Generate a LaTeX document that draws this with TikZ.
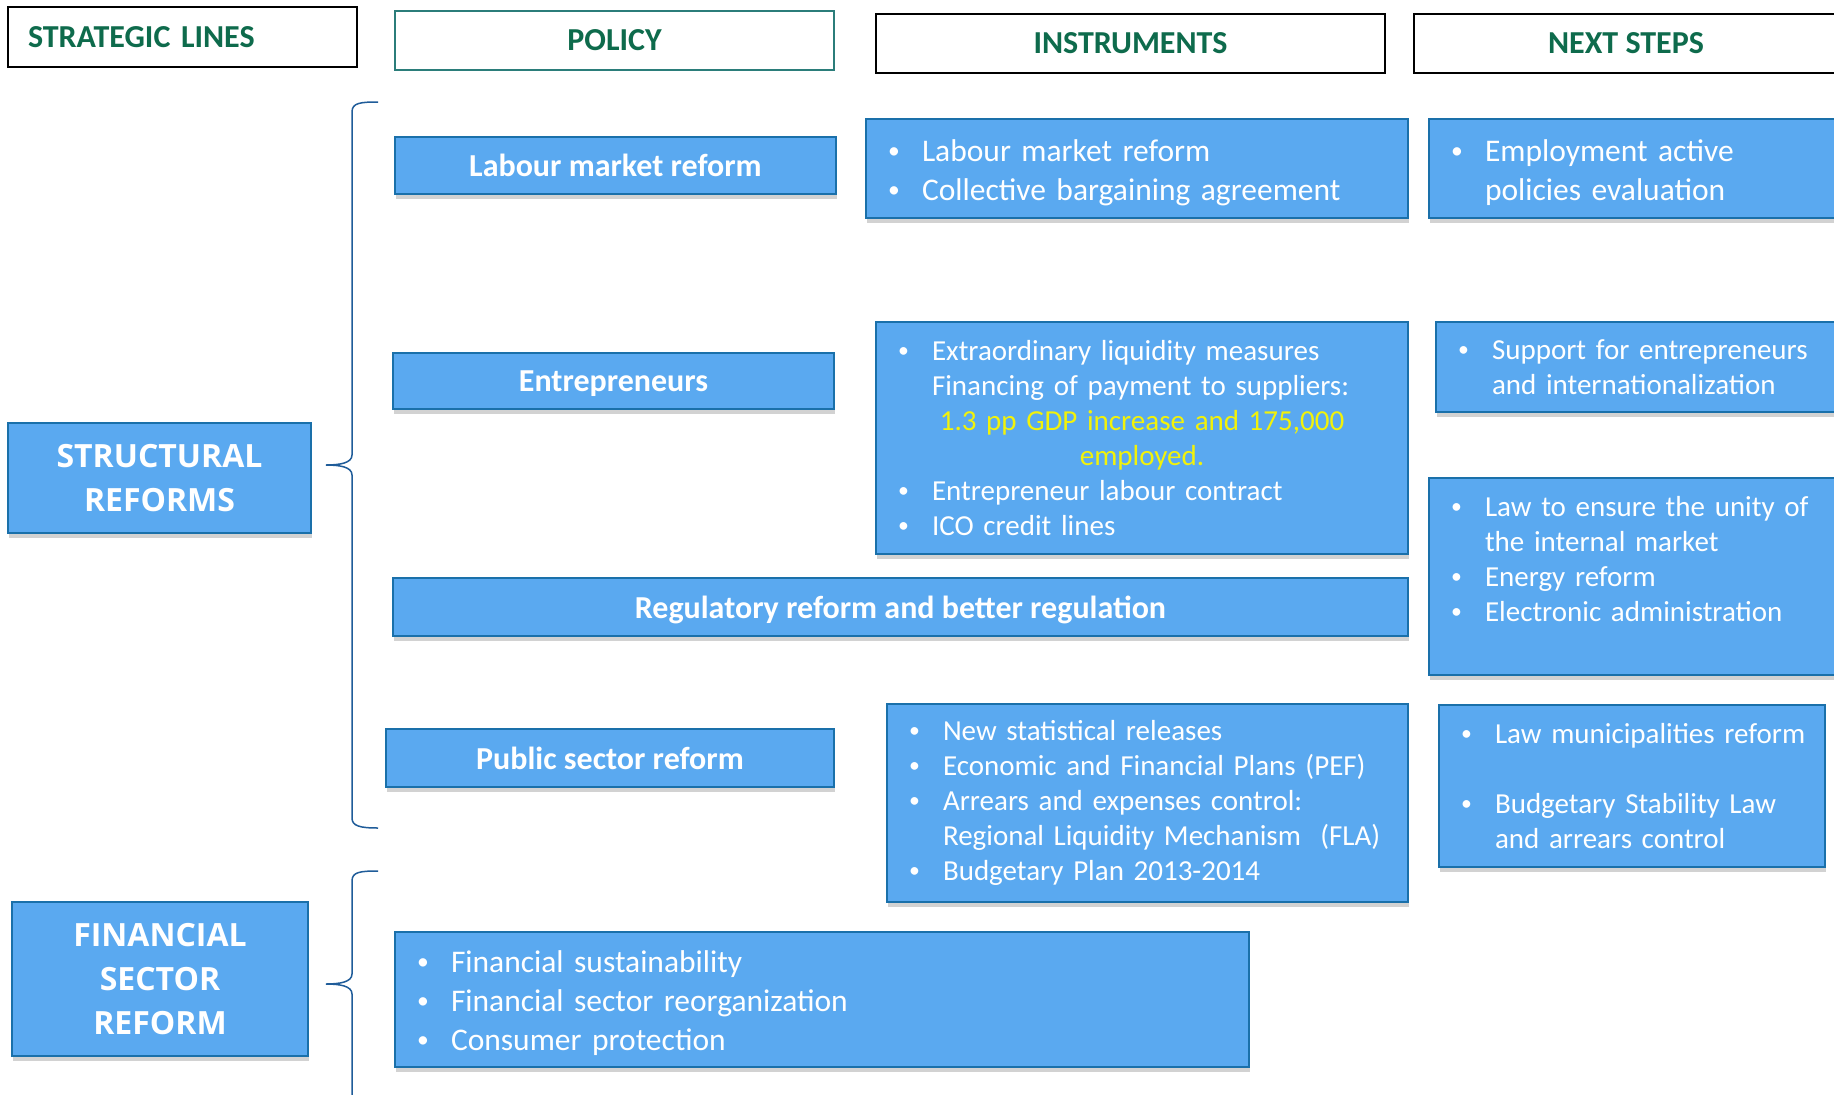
\documentclass[tikz,border=0pt]{standalone}
\usepackage{fontspec}
\setmainfont{Carlito}
\newfontfamily\openfont{Open Sans}
\usepackage{graphicx}
\usepackage{tikz}
\usetikzlibrary{shadows}
\definecolor{boxBlue}{HTML}{5AA9F0}
\definecolor{boxEdge}{HTML}{1A70AA}
\definecolor{headGreen}{HTML}{0E6B4C}
\definecolor{polTeal}{HTML}{2B7D7A}
\definecolor{braceBlue}{HTML}{1F5C99}
\definecolor{hiYellow}{HTML}{F2F20A}
\tikzstyle{head}=[draw=black, line width=1.5pt, fill=white, text=headGreen, inner sep=0pt, font=\fontsize{32}{37}\selectfont\bfseries]
\tikzstyle{blueBox}=[draw=boxEdge, line width=1.5pt, fill=boxBlue, text=white, drop shadow={opacity=0.35, shadow xshift=1pt, shadow yshift=-5pt}]
\tikzstyle{polBox}=[blueBox, inner sep=0pt, text depth=0pt, font=\fontsize{32}{37}\selectfont\bfseries]
\tikzstyle{listL}=[blueBox, align=left, inner xsep=22pt, inner ysep=0pt, font=\fontsize{31.5}{39}\selectfont, execute at begin node={\rule{0pt}{30pt}}]
\tikzstyle{listS}=[blueBox, align=left, inner xsep=22pt, inner ysep=0pt, font=\fontsize{29}{35}\selectfont]
\tikzstyle{lineBox}=[blueBox, align=center, inner sep=0pt, font=\fontsize{32}{44}\selectfont\openfont\bfseries]
\tikzstyle{brace}=[draw=braceBlue, line width=1.5pt]
\newcommand\bitem{\makebox[34pt][l]{\raisebox{0.1em}{\scalebox{0.75}{\textbullet}}}}
\newcommand\bindent{\hspace*{34pt}}
\hyphenpenalty=10000
\exhyphenpenalty=10000

\begin{document}
\begin{tikzpicture}[x=1pt, y=-1pt]
      \useasboundingbox (0,0) rectangle (1834,1095);
      \fill[white] (0,0) rectangle (1834,1095);
      % column heads
      \node(hStrat) [head, minimum height=60pt, text width=309pt, inner xsep=20pt, align=left] at (182.5,37){STRATEGIC LINES};
      \node(hPol) [head, draw=polTeal, minimum width=439pt, minimum height=59pt] at (614.5,40.5){POLICY};
      \node(hInst) [head, minimum width=509pt, minimum height=59pt] at (1130.5,43.5){INSTRUMENTS};
      \node(hNext) [head, minimum width=424pt, minimum height=59pt] at (1626,43.5){NEXT STEPS};
      % strategic lines
      \node(sStruct) [lineBox, minimum width=303pt, minimum height=110pt] at (159.5,478){STRUCTURAL\\REFORMS};
      \node(sFin) [lineBox, minimum width=296pt, minimum height=154pt] at (160,979){FINANCIAL\\SECTOR\\REFORM};
      % policy
      \node(pLab) [polBox, minimum width=441pt, minimum height=57pt] at (615.5,165.5){Labour market reform};
      \node(pEnt) [polBox, minimum width=441pt, minimum height=56pt] at (613.5,381){Entrepreneurs};
      \node(pReg) [polBox, minimum width=1015pt, minimum height=58pt] at (900.5,607){Regulatory reform and better regulation};
      \node(pPub) [polBox, minimum width=448pt, minimum height=58pt] at (610,758){Public sector reform};
      % instruments
      \node(iLab) [listL, text width=498pt, minimum height=99pt] at (1137,168.5){\bitem Labour market reform\\ \bitem Collective bargaining agreement};
      \node(iEnt) [listS, text width=488pt, minimum height=232pt] at (1142,438){\bitem Extraordinary liquidity measures\\ \bindent Financing of payment to suppliers:\\ \makebox[\linewidth][c]{\color{hiYellow}1.3 pp GDP increase and 175,000}\\ \makebox[\linewidth][c]{\color{hiYellow}employed.}\\ \bitem Entrepreneur labour contract\\ \bitem ICO credit lines};
      \node(iPub) [listS, text width=477pt, minimum height=198pt] at (1147.5,803){\bitem New statistical releases\\ \bitem Economic and Financial Plans (PEF)\\ \bitem Arrears and expenses control:\\ \bindent Regional Liquidity Mechanism~~(FLA)\\ \bitem Budgetary Plan 2013-2014};
      % next steps
      \node(nLab) [listL, text width=377pt, minimum height=99pt] at (1639.5,168.5){\bitem Employment active\\ \bindent policies evaluation};
      \node(nEnt) [listS, text width=370pt, minimum height=90pt] at (1643,367){\bitem Support for entrepreneurs\\ \bindent and internationalization};
      \node(nReg) [listS, text width=377pt, minimum height=197pt] at (1639.5,576.5){\bitem Law to ensure the unity of\\ \bindent the internal market\\ \bitem Energy reform\\ \bitem Electronic administration\\ ~};
      \node(nPub) [listS, text width=342pt, minimum height=162pt] at (1632,786){\bitem \mbox{Law municipalities reform}\\ ~\\ \bitem Budgetary Stability Law\\ \bindent and arrears control};
      % financial sector
      \node(fFin) [listL, text width=810pt, minimum height=135pt] at (822,999.5){\bitem Financial sustainability\\ \bitem Financial sector reorganization\\ \bitem Consumer protection};
      % braces
      \draw[brace] (378,102) .. controls (360,102) and (352,103) .. (352,112) -- (352,455)
        .. controls (352,463) and (340,465) .. (326,465) .. controls (340,465) and (352,467) .. (352,475)
        -- (352,818) .. controls (352,826) and (360,828) .. (378,828);
      \draw[brace] (378,871) .. controls (360,871) and (352,872) .. (352,881) -- (352,974)
        .. controls (352,982) and (340,984) .. (326,984) .. controls (340,984) and (352,986) .. (352,994)
        -- (352,1100);
    \end{tikzpicture}
\end{document}
